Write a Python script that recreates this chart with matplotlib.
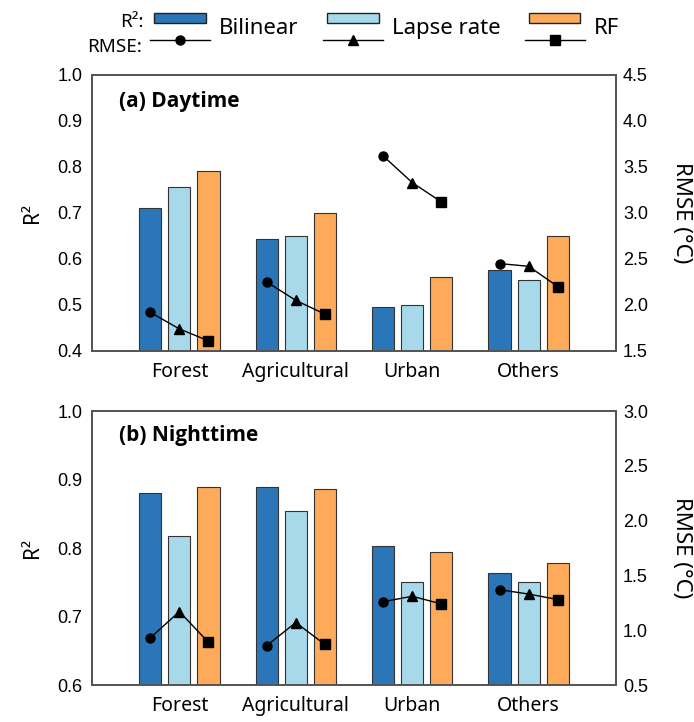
import numpy as np
import matplotlib.pyplot as plt
from matplotlib.patches import Rectangle
from matplotlib.lines import Line2D
from matplotlib.legend_handler import HandlerBase

plt.rcParams['font.family'] = ['Noto Sans', 'DejaVu Sans']

categories = ["Forest", "Agricultural", "Urban", "Others"]
methods = ["Bilinear", "Lapse rate", "RF"]

# R2 (bars) and RMSE (lines), daytime
r2_day_bilinear = [0.711, 0.643, 0.496, 0.575]
r2_day_lapse = [0.756, 0.649, 0.499, 0.554]
r2_day_rf = [0.792, 0.700, 0.560, 0.649]
rmse_day_bilinear = [1.92, 2.25, 3.62, 2.45]
rmse_day_lapse = [1.74, 2.05, 3.33, 2.42]
rmse_day_rf = [1.61, 1.90, 3.12, 2.20]

# nighttime
r2_night_bilinear = [0.881, 0.889, 0.803, 0.764]
r2_night_lapse = [0.817, 0.854, 0.750, 0.750]
r2_night_rf = [0.889, 0.886, 0.794, 0.778]
rmse_night_bilinear = [0.93, 0.86, 1.26, 1.37]
rmse_night_lapse = [1.17, 1.07, 1.31, 1.33]
rmse_night_rf = [0.89, 0.87, 1.24, 1.28]

cores = ['#2a76b8', '#a8d9ea', '#fdab5a']
marcadores = ['o', '^', 's']
tick_font = 'Liberation Sans'


class HandlerBarLine(HandlerBase):
    # barra em cima, linha com marcador embaixo
    def create_artists(self, legend, orig_handle, xdescent, ydescent,
                       width, height, fontsize, trans):
        cor, mk = orig_handle
        x0, y0 = -xdescent, -ydescent
        rect = Rectangle((x0 + 0.07 * width, y0 + 0.63 * height), 0.86 * width, 0.37 * height,
                         facecolor=cor, edgecolor='#222222', lw=1.0, transform=trans)
        ly = y0 + 0.04 * height
        line = Line2D([x0, x0 + width], [ly, ly], color='k', lw=1.0, transform=trans)
        point = Line2D([x0 + width / 2], [ly], marker=mk, ms=6.5, color='k', ls='', transform=trans)
        return [rect, line, point]


def painel(ax, r2_list, rmse_list, r2_min, rmse_lim, titulo, ty):
    x = np.arange(len(categories))
    w = 0.19
    off = [-0.25, 0, 0.25]
    for r2, o, c in zip(r2_list, off, cores):
        ax.bar(x + o, r2, width=w, color=c, edgecolor='#333333', linewidth=0.8, zorder=2)
    ax.set_ylim(r2_min, 1.0)
    ax.set_xlim(-0.75, 3.75)
    ax.set_xticks(x)
    ax.set_xticklabels(categories, fontsize=14)
    ax.set_ylabel('R²', fontsize=15, labelpad=10)
    ax.yaxis.set_major_formatter(plt.FormatStrFormatter('%.1f'))
    ax.tick_params(axis='y', length=0, pad=7, labelsize=13, labelfontfamily=tick_font)
    ax.tick_params(axis='x', length=0, pad=8)

    ax2 = ax.twinx()
    rmse_arr = np.array(rmse_list)
    for i in range(len(categories)):
        ax2.plot(x[i] + np.array(off), rmse_arr[:, i], color='k', lw=1.0, zorder=3)
    for vals, o, mk in zip(rmse_list, off, marcadores):
        ax2.plot(x + o, vals, ls='', marker=mk, ms=6.5, color='k', zorder=4)
    ax2.set_ylim(*rmse_lim)
    ax2.set_yticks(np.arange(rmse_lim[0], rmse_lim[1] + 0.01, 0.5))
    ax2.yaxis.set_major_formatter(plt.FormatStrFormatter('%.1f'))
    ax2.tick_params(axis='y', length=0, pad=5, labelsize=13, labelfontfamily=tick_font)
    ax2.set_ylabel('RMSE (°C)', fontsize=16, rotation=270, labelpad=32)

    for a in (ax, ax2):
        for s in a.spines.values():
            s.set_color('#555555')
            s.set_linewidth(1.3)
    ax.text(0.052, ty, titulo, transform=ax.transAxes, fontsize=15, fontweight='bold',
            family=['Open Sans', 'DejaVu Sans'], va='center', ha='left')
    return ax2


fig = plt.figure(figsize=(6.94, 7.22), dpi=100)
ax_a = fig.add_axes([0.1326, 0.5139, 0.755, 0.3823])
ax_b = fig.add_axes([0.1326, 0.0512, 0.755, 0.3795])

painel(ax_a, [r2_day_bilinear, r2_day_lapse, r2_day_rf],
       [rmse_day_bilinear, rmse_day_lapse, rmse_day_rf], 0.4, (1.5, 4.5), '(a) Daytime', 0.903)
painel(ax_b, [r2_night_bilinear, r2_night_lapse, r2_night_rf],
       [rmse_night_bilinear, rmse_night_lapse, rmse_night_rf], 0.6, (0.5, 3.0), '(b) Nighttime', 0.912)

handles = [(c, m) for c, m in zip(cores, marcadores)]
fig.legend(handles, methods, handler_map={tuple: HandlerBarLine()},
           loc='upper left', bbox_to_anchor=(0.216, 0.982), ncol=3, frameon=False,
           fontsize=16, handlelength=2.7, handleheight=1.55, handletextpad=0.4,
           columnspacing=1.1, borderpad=0, borderaxespad=0)
fig.text(144 / 694, 1 - 22 / 722, 'R²:', ha='right', va='center', fontsize=13.5)
fig.text(142 / 694, 1 - 47 / 722, 'RMSE:', ha='right', va='center', fontsize=13.5)

plt.savefig('out.png', dpi=100)
